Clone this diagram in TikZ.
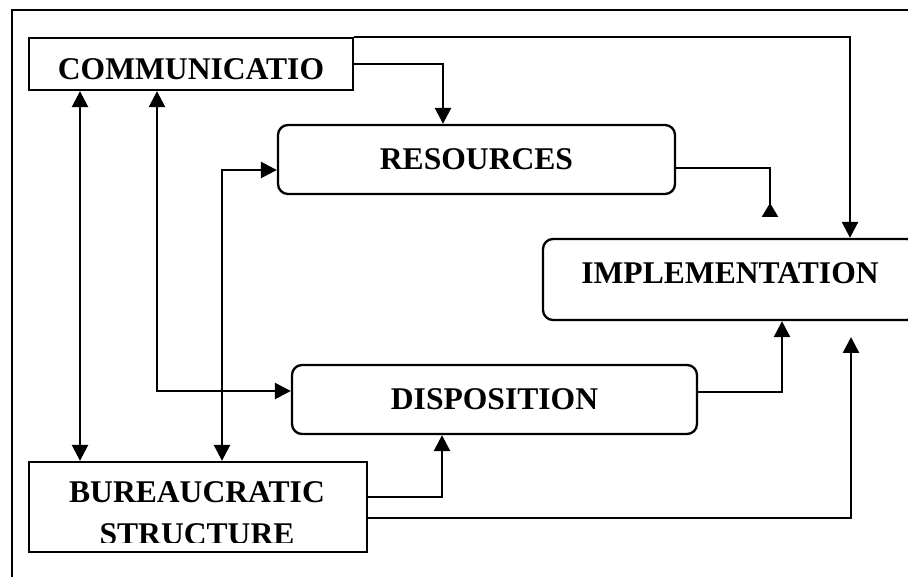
\documentclass[tikz,border=0pt]{standalone}
\usepackage{fontspec}
\setmainfont{Liberation Serif}
\usetikzlibrary{arrows.meta}
\begin{document}
\begin{tikzpicture}[x=1pt,y=-1pt,
  sqbox/.style={draw, line width=2.3pt, inner sep=0pt, font=\fontsize{31.6}{41.7}\selectfont\bfseries},
  rbox/.style={sqbox, rounded corners=10pt},
  arr/.style={line width=2.6pt, -{Triangle[length=16pt,width=16pt]}},
  darr/.style={line width=2.6pt, {Triangle[length=16pt,width=16pt]}-{Triangle[length=16pt,width=16pt]}}]
\useasboundingbox (0,0) rectangle (908,577);
\clip (0,0) rectangle (908,577);
\draw[line width=2.3pt] (12,600) |- (930,10);
\node[sqbox, minimum width=324pt, minimum height=52pt, text height=31pt, text depth=0pt] (comm) at (191,64) {COMMUNICATIO};
\node[rbox, minimum width=397pt, minimum height=69pt] (res) at (476.5,159.5) {RESOURCES};
\node[rbox, minimum width=374pt, minimum height=81pt, text height=22pt, text depth=14pt] (impl) at (730,279.5) {IMPLEMENTATION};
\node[rbox, minimum width=405pt, minimum height=69pt] (disp) at (494.5,399.5) {DISPOSITION};
\node[sqbox, minimum width=338pt, minimum height=90pt] (bur) at (198,507) {};
\begin{scope}
\clip (29,462) rectangle (367,542);
\node[font=\fontsize{31.6}{41.7}\selectfont\bfseries, align=center, inner sep=0pt] (burtxt) at (197,513.5) {BUREAUCRATIC\\STRUCTURE};
\end{scope}
\coordinate (resend) at (770,217);
\coordinate (implend) at (851,337);
\draw[arr] (comm.north east) -| ([xshift=120pt]impl.north);
\draw[arr] (comm.east) -| ([xshift=-33.5pt]res.north);
\draw[line width=2.6pt, -{Triangle[reversed,length=14pt,width=16pt]}] ([yshift=-8.5pt]res.east) -| (resend);
\draw[darr] ([xshift=-111pt]comm.south) -- ([xshift=-118pt]bur.north);
\draw[darr] ([xshift=-34pt]comm.south) |- ([yshift=8.5pt]disp.west);
\draw[darr] ([xshift=24pt]bur.north) |- ([yshift=-10.5pt]res.west);
\draw[arr] ([yshift=7.5pt]disp.east) -| ([xshift=52pt]impl.south);
\draw[arr] ([yshift=10pt]bur.east) -| ([xshift=-52.5pt]disp.south);
\draw[arr] ([yshift=-11pt]bur.east) -| (implend);
\end{tikzpicture}
\end{document}
